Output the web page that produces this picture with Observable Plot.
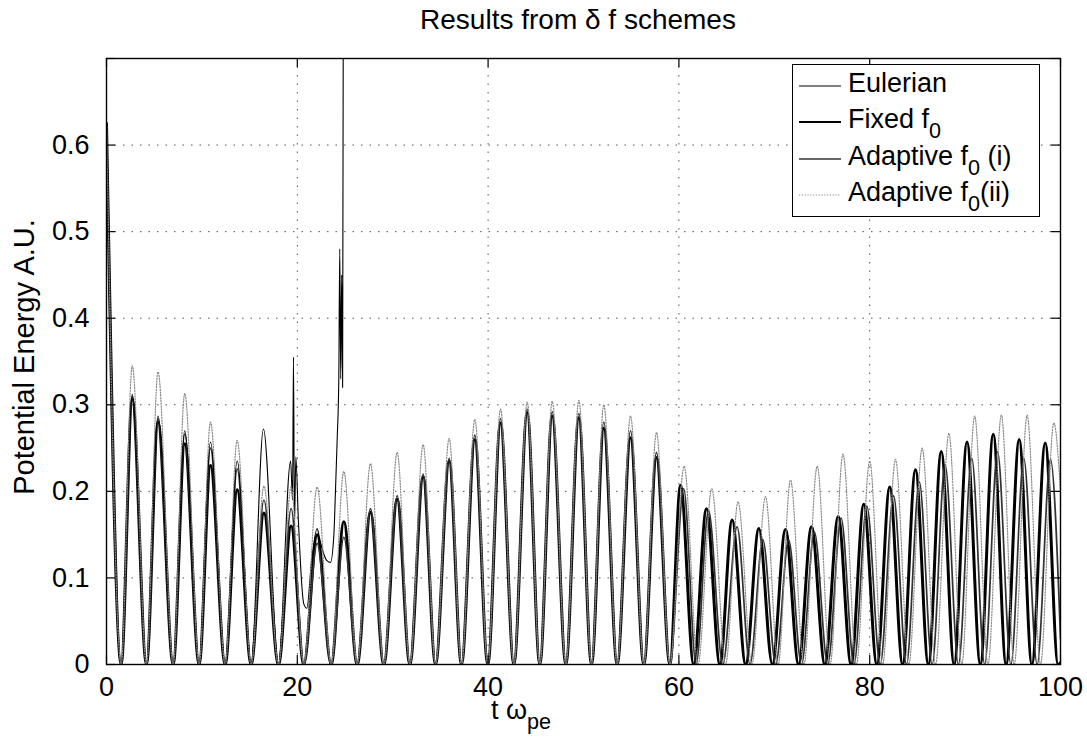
<!DOCTYPE html>
<html>
<head>
<meta charset="utf-8">
<script src="https://cdn.jsdelivr.net/npm/d3@7"></script>
<script src="https://cdn.jsdelivr.net/npm/@observablehq/plot@0.6"></script>
<style>
  html, body { margin: 0; padding: 0; background: #fff; }
  #wrap { position: relative; width: 1087px; height: 737px; font-family: "Liberation Sans", Arial, Helvetica, sans-serif; color: #000; }
  .abs { position: absolute; white-space: nowrap; }
  sub { font-size: 0.8em; vertical-align: -0.45em; line-height: 0; }
  #legend { position: absolute; border: 1.3px solid #000; background: #fff; }
  .row { position: absolute; left: 0; display: flex; align-items: center; }
</style>
</head>
<body>
<div id="wrap"></div>
<script>
// ---------- data ----------
const xTicks = [0, 20, 40, 60, 80, 100];
const xTickLabels = ["0", "20", "40", "60", "80", "100"];
const yTicks = [0, 0.1, 0.2, 0.3, 0.4, 0.5, 0.6, 0.7];
const yTickLabels = ["0", "0.1", "0.2", "0.3", "0.4", "0.5", "0.6", ""];
const seriesNames = ["Eulerian", "Fixed f0", "Adaptive f0 (i)", "Adaptive f0(ii)"];

// shared early times (troughs and peaks, t < 59)
const earlyT = [0, 1.54, 2.7, 4.19, 5.4, 6.99, 8.2, 9.71, 10.9, 12.44, 13.7, 15.16, 16.5, 18.03, 19.35, 20.68,
  22.08, 23.55, 24.88, 26.28, 27.67, 29.07, 30.47, 31.8, 33.19, 34.49, 35.92, 37.21, 38.61, 39.97, 41.3, 42.7,
  44.1, 45.42, 46.72, 48.15, 49.51, 50.84, 52.13, 53.53, 54.93, 56.32, 57.65, 59.05];

const fixedEarlyV = [0.625, 0, 0.307, 0, 0.280, 0, 0.255, 0, 0.230, 0, 0.202, 0, 0.175, 0, 0.16, 0,
  0.15, 0, 0.165, 0, 0.176, 0, 0.191, 0, 0.217, 0, 0.235, 0, 0.26, 0, 0.279, 0,
  0.291, 0, 0.287, 0, 0.285, 0, 0.273, 0, 0.262, 0, 0.239, 0];
const fixedLateT = [60.17, 61.55, 62.89, 64.3, 65.58, 67.0, 68.38, 69.8, 71.17, 72.55, 73.9, 75.3, 76.7, 78.05,
  79.38, 80.75, 82.1, 83.45, 84.8, 86.15, 87.5, 88.85, 90.2, 91.6, 92.95, 94.3, 95.67, 97.0, 98.4, 99.75, 100];
const fixedLateV = [0.207, 0, 0.180, 0, 0.167, 0, 0.157, 0, 0.156, 0, 0.159, 0, 0.171, 0,
  0.185, 0, 0.205, 0, 0.225, 0, 0.246, 0, 0.257, 0, 0.266, 0, 0.26, 0, 0.256, 0, 0.002];

const adaptIEarlyV = [0.625, 0, 0.31, 0, 0.284, 0, 0.266, 0, 0.25, 0, 0.226, 0, 0.19, 0, 0.18, 0,
  0.14, 0, 0.147, 0, 0.18, 0, 0.195, 0, 0.22, 0, 0.238, 0, 0.265, 0, 0.284, 0,
  0.295, 0, 0.292, 0, 0.29, 0, 0.28, 0, 0.27, 0, 0.245, 0];
const adaptILateT = [60.5, 61.8, 63.1, 64.6, 66.1, 67.45, 68.8, 70.15, 71.5, 72.85, 74.2, 75.6, 77.0, 78.35,
  79.7, 81.1, 82.5, 83.85, 85.2, 86.55, 87.9, 89.3, 90.7, 92.05, 93.4, 94.8, 96.15, 97.55, 98.95, 100];
const adaptILateV = [0.203, 0, 0.178, 0, 0.159, 0, 0.144, 0, 0.144, 0, 0.153, 0, 0.169, 0,
  0.183, 0, 0.195, 0, 0.211, 0, 0.231, 0, 0.238, 0, 0.246, 0, 0.238, 0, 0.237, 0.03];

const adaptIIEarlyV = [0.625, 0, 0.345, 0, 0.338, 0, 0.313, 0, 0.280, 0, 0.259, 0, 0.206, 0, 0.205, 0,
  0.205, 0, 0.223, 0, 0.232, 0, 0.245, 0, 0.254, 0, 0.261, 0, 0.283, 0, 0.295, 0,
  0.303, 0, 0.304, 0, 0.305, 0, 0.300, 0, 0.287, 0, 0.268, 0];
const adaptIILateT = [60.55, 62.0, 63.45, 64.9, 66.2, 67.65, 69.08, 70.4, 71.7, 73.1, 74.5, 75.85, 77.2, 78.6,
  80.0, 81.35, 82.7, 84.1, 85.5, 86.9, 88.3, 89.65, 91.0, 92.4, 93.8, 95.15, 96.5, 97.9, 99.3, 100];
const adaptIILateV = [0.229, 0, 0.203, 0, 0.188, 0, 0.194, 0, 0.213, 0, 0.229, 0, 0.243, 0,
  0.235, 0, 0.237, 0, 0.25, 0, 0.267, 0, 0.287, 0, 0.288, 0, 0.288, 0, 0.279, 0.2];

const eulerT = [0, 1.54, 2.7, 4.19, 5.4, 6.99, 8.2, 9.71, 10.9, 12.44, 13.7, 15.16, 16.45, 18.03,
  19.3, 19.5, 19.6, 19.7, 19.85, 20.1, 20.68, 21.0, 21.5, 22.08, 22.35, 22.6, 23.1, 23.48, 23.83,
  24.0, 24.18, 24.35, 24.45, 24.55, 24.65, 24.75, 24.82];
const eulerV = [0.625, 0, 0.312, 0, 0.287, 0, 0.27, 0, 0.257, 0, 0.235, 0, 0.272, 0,
  0.235, 0.19, 0.355, 0.16, 0.24, 0.17, 0.07, 0.065, 0.12, 0.157, 0.145, 0.134, 0.12, 0.118, 0.149,
  0.2, 0.26, 0.33, 0.48, 0.33, 0.45, 0.32, 0.75];

// ---------- build table ----------
const rows = [];
function add(name, ts, vs) { ts.forEach((t, i) => rows.push({series: name, t, v: vs[i]})); }
add(seriesNames[0], eulerT, eulerV);
add(seriesNames[1], earlyT, fixedEarlyV); add(seriesNames[1], fixedLateT, fixedLateV);
add(seriesNames[2], earlyT, adaptIEarlyV); add(seriesNames[2], adaptILateT, adaptILateV);
add(seriesNames[3], earlyT, adaptIIEarlyV); add(seriesNames[3], adaptIILateT, adaptIILateV);

const styles = {
  "Eulerian":        {stroke: "#000", strokeWidth: 1.1, dash: null},
  "Fixed f0":        {stroke: "#000", strokeWidth: 3, dash: null},
  "Adaptive f0 (i)": {stroke: "#333", strokeWidth: 1.7, dash: null},
  "Adaptive f0(ii)": {stroke: "#8a8a8a", strokeWidth: 1.2, dash: "1.2,1.6"}
};
const drawOrder = ["Fixed f0", "Adaptive f0 (i)", "Eulerian", "Adaptive f0(ii)"];

const W = 1087, H = 737;
const mT = 58, mR = 27, mB = 73, mL = 106;
const pW = W - mL - mR, pH = H - mT - mB;
const tk = 9;

const lineMarks = drawOrder.map(name => Plot.line(rows.filter(d => d.series === name), {
  x: "t", y: "v", curve: "monotone-x", clip: true,
  stroke: styles[name].stroke, strokeWidth: styles[name].strokeWidth,
  strokeDasharray: styles[name].dash, strokeLinejoin: "round"
}));

const plot = Plot.plot({
  width: W, height: H,
  marginTop: mT, marginRight: mR, marginBottom: mB, marginLeft: mL,
  style: {fontFamily: "'Liberation Sans', Arial, Helvetica, sans-serif", fontSize: "27px", background: "transparent", color: "#000"},
  x: {domain: [0, 100], label: null},
  y: {domain: [0, 0.7], label: null},
  marks: [
    Plot.ruleX(xTicks.slice(1, -1), {x: d => d, stroke: "#555", strokeDasharray: "1.5,7"}),
    Plot.ruleY(yTicks.slice(1, -1), {y: d => d, stroke: "#555", strokeDasharray: "1.5,7"}),
    ...lineMarks,
    Plot.ruleX(xTicks, {x: d => d, insetTop: pH - tk, stroke: "#000", strokeWidth: 1.2}),
    Plot.ruleX(xTicks, {x: d => d, insetBottom: pH - tk, stroke: "#000", strokeWidth: 1.2}),
    Plot.ruleY(yTicks, {y: d => d, insetRight: pW - tk, stroke: "#000", strokeWidth: 1.2}),
    Plot.ruleY(yTicks, {y: d => d, insetLeft: pW - tk, stroke: "#000", strokeWidth: 1.2}),
    Plot.frame({stroke: "#000", strokeWidth: 1.4}),
    Plot.axisX({ticks: xTicks, tickSize: 0, tickPadding: 12, tickFormat: (d) => xTickLabels[xTicks.indexOf(d)], label: null}),
    Plot.axisY({ticks: yTicks, tickSize: 0, tickPadding: 17, tickFormat: (d) => yTickLabels[yTicks.indexOf(d)], label: null})
  ]
});
plot.style.position = "absolute";
plot.style.left = "0px";
plot.style.top = "0px";
const wrap = document.getElementById("wrap");
wrap.appendChild(plot);

// ---------- titles & labels ----------
function addDiv(html, css) {
  const d = document.createElement("div");
  d.className = "abs";
  d.innerHTML = html;
  Object.assign(d.style, css);
  wrap.appendChild(d);
  return d;
}
addDiv("Results from &delta; f schemes", {left: "578px", top: "4px", transform: "translateX(-50%)", fontSize: "28px"});
addDiv("t &omega;<sub>pe</sub>", {left: "521px", top: "695px", transform: "translateX(-50%)", fontSize: "27px"});
addDiv("Potential Energy A.U.", {left: "24px", top: "357px", transform: "translate(-50%, -50%) rotate(-90deg)", fontSize: "29px"});

// ---------- legend ----------
const legend = document.createElement("div");
legend.id = "legend";
Object.assign(legend.style, {left: "792px", top: "64px", width: "246px", height: "151px"});
wrap.appendChild(legend);
const legendLabels = ["Eulerian", "Fixed f<sub>0</sub>", "Adaptive f<sub>0</sub> (i)", "Adaptive f<sub>0</sub>(ii)"];
const rowTops = [3, 39, 76, 112];
seriesNames.forEach((name, i) => {
  const r = document.createElement("div");
  r.className = "row";
  r.style.top = rowTops[i] + "px";
  const s = styles[name];
  r.innerHTML = `<svg width="54" height="30" style="flex:none"><line x1="6" x2="48" y1="17" y2="17" stroke="${s.stroke}" stroke-width="${Math.min(s.strokeWidth, 2)}" ${s.dash ? `stroke-dasharray="${s.dash}"` : ""}/></svg><span style="font-size:27px; margin-left:1px">${legendLabels[i]}</span>`;
  legend.appendChild(r);
});
</script>
</body>
</html>
